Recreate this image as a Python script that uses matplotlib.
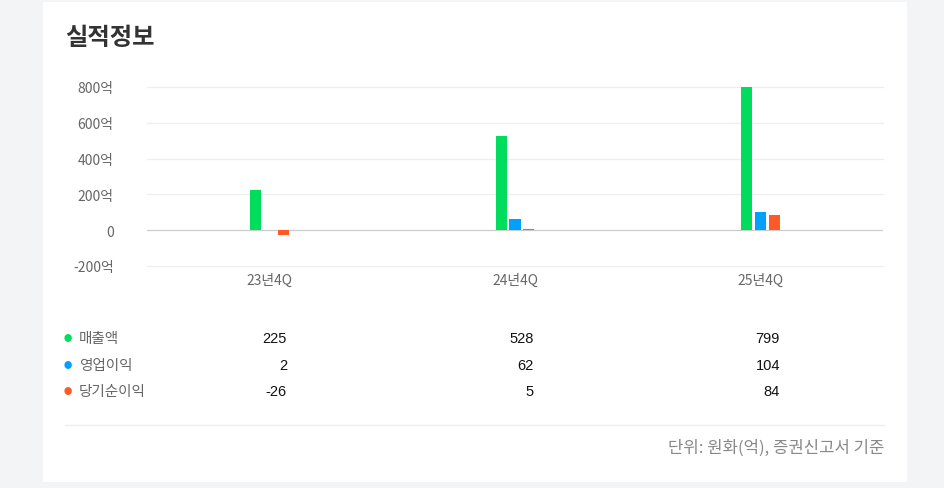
import matplotlib
matplotlib.use('Agg')
import matplotlib.pyplot as plt
import numpy as np

plt.rcParams['font.family'] = ['Noto Sans CJK KR', 'DejaVu Sans']

# data
quarters = ['23년4Q', '24년4Q', '25년4Q']
series_names = ['매출액', '영업이익', '당기순이익']
revenue = [225, 528, 799]
op_income = [2, 62, 104]
net_income = [-26, 5, 84]
y_ticks = [-200, 0, 200, 400, 600, 800]
y_tick_labels = ['-200억', '0', '200억', '400억', '600억', '800억']
colors = ['#00dd5c', '#00a0ff', '#ff5a26']

W, H = 944, 489
fig = plt.figure(figsize=(W / 100, H / 100), dpi=100)
fig.patch.set_facecolor('#f3f4f6')

# white card
card = fig.add_axes([43 / W, 1 - 483 / H, (907 - 43) / W, (483 - 3) / H])
card.set_facecolor('white')
card.set_xticks([])
card.set_yticks([])
for s in card.spines.values():
    s.set_visible(False)

fig.text(65 / W, 1 - 38 / H, '실적정보', fontsize=17.5, fontweight='bold',
         color='#333333', va='center', ha='left')

# bar chart area (pixels: x 147..883, y 88..267)
ax = fig.add_axes([147 / W, 1 - 267 / H, (883 - 147) / W, (267 - 88) / H])
ax.set_facecolor('none')
x = np.arange(len(quarters))
bw = 0.045
step = 0.056
for i, vals in enumerate([revenue, op_income, net_income]):
    ax.bar(x + (i - 1) * step, vals, width=bw, color=colors[i], zorder=3)

ax.set_xlim(-0.5, 2.5)
ax.set_ylim(-200, 800)
ax.set_yticks(y_ticks)
ax.set_yticklabels(y_tick_labels)
ax.set_xticks(x)
ax.set_xticklabels(quarters)
ax.tick_params(axis='both', length=0, labelsize=10, colors='#666666')
ax.tick_params(axis='y', pad=24)
ax.tick_params(axis='x', pad=5)
for t in y_ticks:
    if t == 0:
        continue
    ax.axhline(t, color='#eeeeee', linewidth=0.9, zorder=0, clip_on=False)
ax.axhline(0, color='#cccccc', linewidth=0.9, zorder=2)
for s in ax.spines.values():
    s.set_visible(False)

# table under the chart
row_y = [339, 366, 392]
col_x = [287, 534, 780]
for r, vals in enumerate([revenue, op_income, net_income]):
    yy = 1 - row_y[r] / H
    fig.text(68 / W, yy, '●', fontsize=6, color=colors[r], ha='center', va='center')
    fig.text(79 / W, yy, series_names[r], fontsize=10.5, color='#666666', ha='left', va='center')
    for c, v in enumerate(vals):
        fig.text(col_x[c] / W, yy, str(v), fontsize=10.5, color='#111111',
                 ha='right', va='center', family=['Liberation Sans', 'DejaVu Sans'])

fig.add_artist(plt.Line2D([65 / W, 884 / W], [1 - 426 / H, 1 - 426 / H],
                          color='#eeeeee', linewidth=1))
fig.text(884 / W, 1 - 448 / H, '단위: 원화(억), 증권신고서 기준', fontsize=12,
         color='#888888', ha='right', va='center')

plt.savefig('out.png', dpi=100, facecolor=fig.get_facecolor())
